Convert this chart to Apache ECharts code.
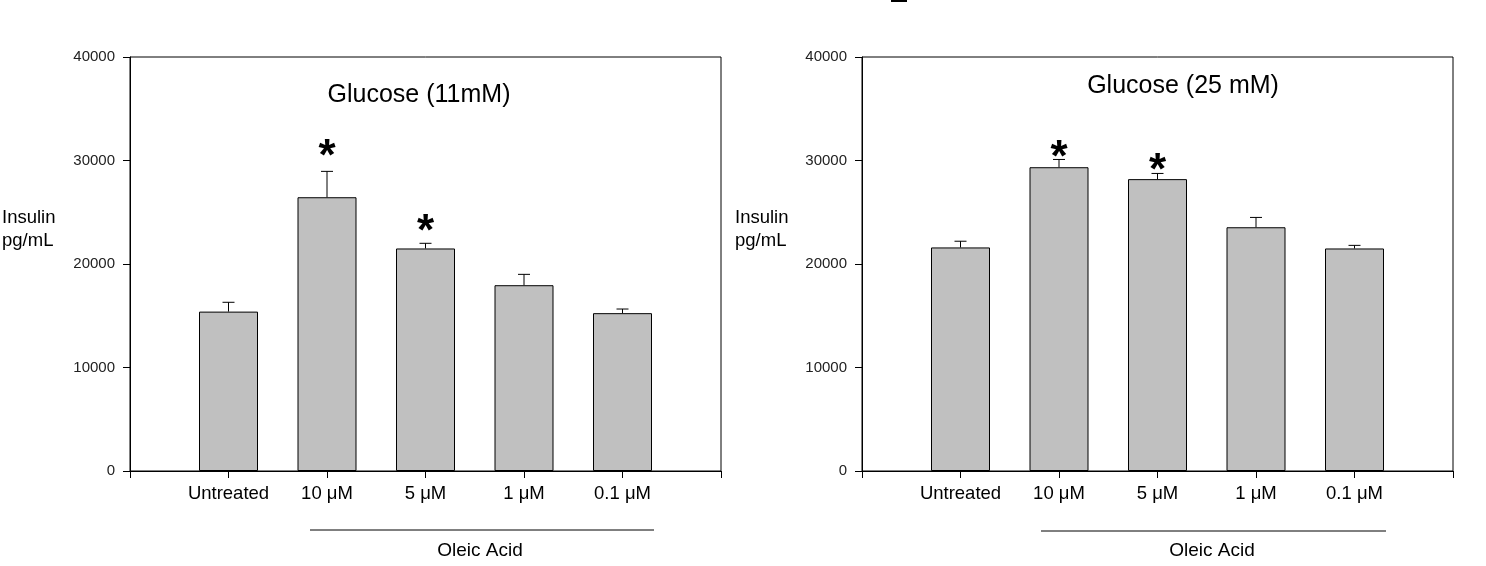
<!DOCTYPE html>
<html>
<head>
<meta charset="utf-8">
<script src="https://cdn.jsdelivr.net/npm/echarts@6/dist/echarts.min.js"></script>
<style>
  html, body { margin: 0; padding: 0; background: #fff; }
  #chart { width: 1486px; height: 566px; }
</style>
</head>
<body>
<div id="chart"></div>
<script>
// categories (blank slots at both ends of the axis)
var categories = ['', 'Untreated', '10 \u03bcM', '5 \u03bcM', '1 \u03bcM', '0.1 \u03bcM', ''];

// Glucose 11 mM
var meanLow = [15400, 26450, 21500, 17950, 15250];
var errLow = [16300, 28950, 22000, 19000, 15650];
var starLow = [null, 31200, 23950, null, null];

// Glucose 25 mM
var meanHigh = [21600, 29350, 28200, 23550, 21500];
var errHigh = [22200, 30100, 28750, 24500, 21800];
var starHigh = [null, 31100, 29850, null, null];

var yTicks = [0, 10000, 20000, 30000, 40000];
var titles = ['Glucose (11mM)', 'Glucose (25 mM)'];

var font = '"Liberation Sans", Arial, sans-serif';
var chart = echarts.init(document.getElementById('chart'));

function padded(arr) {
  return ['-'].concat(arr).concat(['-']);
}

function makeAxes(i, left) {
  return {
    grid: {
      left: left, top: 57, width: 591, height: 414,
      show: true, borderColor: '#000', borderWidth: 1, backgroundColor: 'transparent'
    },
    x: {
      type: 'category', gridIndex: i, data: categories, boundaryGap: false,
      axisLine: { lineStyle: { color: '#000', width: 1 } },
      axisTick: { show: true, length: 7, alignWithLabel: true, lineStyle: { color: '#000' } },
      axisLabel: { color: '#000', fontFamily: font, fontSize: 18.5, margin: 13, interval: 0 },
      splitLine: { show: false }
    },
    y: {
      type: 'value', gridIndex: i, min: yTicks[0], max: yTicks[yTicks.length - 1], interval: 10000,
      axisLine: { show: true, lineStyle: { color: '#000', width: 1 } },
      axisTick: { show: true, length: 7, lineStyle: { color: '#000' } },
      axisLabel: {
        color: '#222', fontFamily: font, fontSize: 15, margin: 15,
        formatter: function (v) { return String(v); }
      },
      splitLine: { show: false }
    }
  };
}

var a0 = makeAxes(0, 130);
var a1 = makeAxes(1, 862);

function barSeries(i, vals) {
  return {
    type: 'bar', xAxisIndex: i, yAxisIndex: i, data: padded(vals),
    barWidth: 59, silent: true,
    itemStyle: { color: '#c0c0c0', borderColor: '#000', borderWidth: 1 },
    z: 2
  };
}

function errSeries(i, vals, tops) {
  var d = vals.map(function (v, k) { return [k + 1, v, tops[k]]; });
  return {
    type: 'custom', xAxisIndex: i, yAxisIndex: i, data: d, silent: true, z: 3,
    renderItem: function (params, api) {
      var base = api.coord([api.value(0), api.value(1)]);
      var top = api.coord([api.value(0), api.value(2)]);
      var cap = 6;
      return {
        type: 'group',
        children: [
          { type: 'line', shape: { x1: base[0], y1: base[1], x2: top[0], y2: top[1] }, style: { stroke: '#000', lineWidth: 1 } },
          { type: 'line', shape: { x1: top[0] - cap, y1: top[1], x2: top[0] + cap, y2: top[1] }, style: { stroke: '#000', lineWidth: 1 } }
        ]
      };
    }
  };
}

function starSeries(i, stars) {
  var d = [];
  stars.forEach(function (s, k) { if (s !== null) d.push([k + 1, s]); });
  return {
    type: 'custom', xAxisIndex: i, yAxisIndex: i, data: d, silent: true, z: 4,
    renderItem: function (params, api) {
      var p = api.coord([api.value(0), api.value(1)]);
      return {
        type: 'text',
        style: {
          x: p[0], y: p[1] + 10, text: '*', fill: '#000',
          font: 'bold 44px ' + font, textAlign: 'center', textVerticalAlign: 'middle'
        }
      };
    }
  };
}

function label(x, y, text, size, align) {
  return {
    type: 'text', x: x, y: y,
    style: { text: text, fill: '#000', font: size + 'px ' + font, textAlign: align || 'center', textVerticalAlign: 'middle' }
  };
}

function hline(x1, x2, y) {
  return { type: 'line', shape: { x1: x1, y1: y, x2: x2, y2: y }, style: { stroke: '#000', lineWidth: 1 } };
}

chart.setOption({
  animation: false,
  backgroundColor: '#fff',
  grid: [a0.grid, a1.grid],
  xAxis: [a0.x, a1.x],
  yAxis: [a0.y, a1.y],
  series: [
    barSeries(0, meanLow), errSeries(0, meanLow, errLow), starSeries(0, starLow),
    barSeries(1, meanHigh), errSeries(1, meanHigh, errHigh), starSeries(1, starHigh)
  ],
  graphic: [
    label(419, 95, titles[0], 25),
    label(1183, 86, titles[1], 25),
    label(2, 218, 'Insulin', 18.5, 'left'),
    label(2, 241, 'pg/mL', 18.5, 'left'),
    label(735, 218, 'Insulin', 18.5, 'left'),
    label(735, 241, 'pg/mL', 18.5, 'left'),
    hline(310, 654, 530),
    hline(1041, 1386, 531),
    label(480, 551, 'Oleic Acid', 19),
    label(1212, 551, 'Oleic Acid', 19),
    { type: 'rect', shape: { x: 891, y: 0, width: 16, height: 2 }, style: { fill: '#000' } }
  ]
});
</script>
</body>
</html>
